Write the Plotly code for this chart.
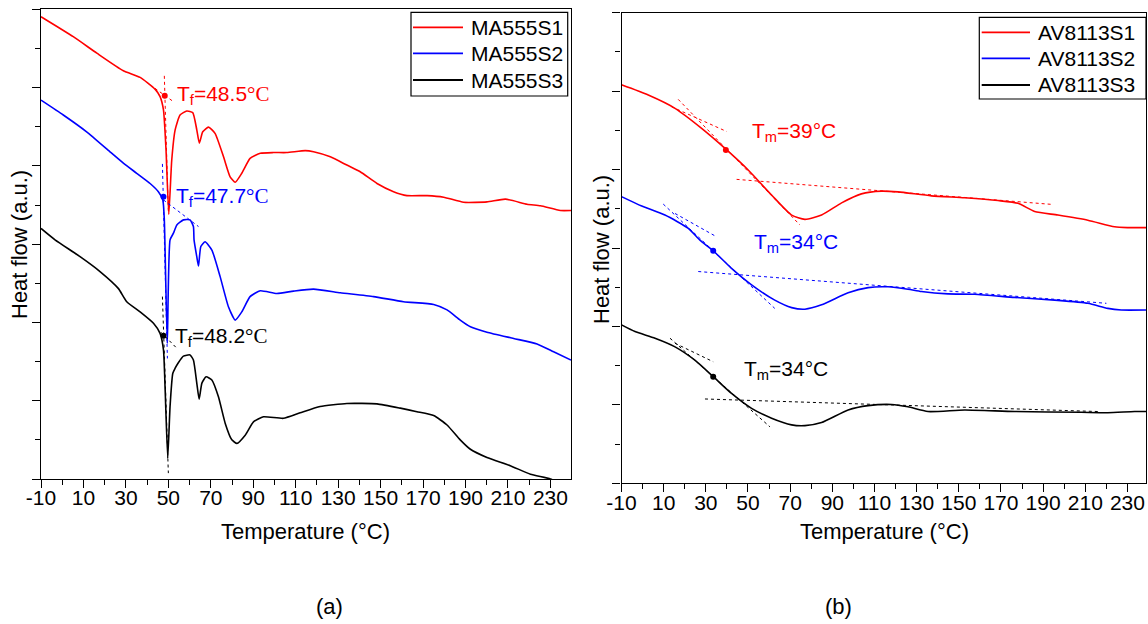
import plotly.graph_objects as go

# ---------------- data: panel (a) ----------------
ma_s1_T = [-10, 5.2, 16.3, 28.8, 36.7, 43.7, 46.1, 47.7, 48.9, 50.2, 51.6, 53.2, 55.5, 58.7, 61.5, 63.4,
           64.6, 66.2, 68.9, 72.0, 76.0, 79.1, 81.5, 84.6, 88.5, 93.3, 99.5, 105.8, 114.5, 118.4, 126.3,
           134.1, 140.4, 148.3, 156.1, 162.4, 171.9, 179.7, 189.1, 200.1, 208.8, 219.0, 225.3, 234.7, 239.7]
ma_s1_v = [11.81, 11.30, 10.88, 10.43, 10.26, 9.96, 9.77, 9.43, 8.41, 6.76, 8.15, 8.92, 9.30, 9.40, 9.36,
           8.92, 8.58, 8.87, 8.99, 8.83, 8.23, 7.72, 7.58, 7.81, 8.19, 8.32, 8.34, 8.34, 8.39, 8.36, 8.23,
           8.02, 7.85, 7.55, 7.34, 7.24, 7.24, 7.20, 7.07, 7.08, 7.15, 7.02, 6.98, 6.86, 6.86]

ma_s2_T = [-10, 0.5, 11.5, 22.5, 28.8, 35.1, 41.4, 45.3, 47.4, 48.1, 49.5, 50.8, 52.4, 54.0, 57.1, 60.2,
           61.8, 62.1, 63.4, 64.2, 65.3, 67.3, 70.5, 74.4, 78.3, 81.5, 84.6, 88.5, 93.3, 101.1, 109.0,
           118.4, 131.0, 146.7, 160.8, 175.0, 181.3, 187.5, 192.3, 200.1, 212.7, 223.7, 231.5, 239.7]
ma_s2_v = [9.68, 9.30, 8.87, 8.36, 8.07, 7.81, 7.55, 7.34, 7.13, 6.62, 3.47, 6.11, 6.28, 6.49, 6.62, 6.62,
           6.45, 6.11, 5.68, 5.44, 5.94, 6.06, 5.85, 5.17, 4.40, 4.06, 4.27, 4.66, 4.81, 4.74, 4.80,
           4.85, 4.76, 4.66, 4.53, 4.46, 4.32, 4.06, 3.89, 3.75, 3.59, 3.45, 3.25, 3.04]

ma_s3_T = [-10, -3.4, 8.4, 17.8, 26.4, 30.4, 36.7, 43.0, 46.1, 47.7, 48.5, 49.7, 50.8, 52.1, 53.2, 54.7,
           57.1, 60.2, 61.8, 63.4, 64.5, 65.8, 67.8, 70.5, 73.6, 76.8, 79.9, 82.3, 86.2, 90.1, 94.8,
           104.2, 112.1, 121.5, 134.1, 148.3, 159.3, 167.1, 175.0, 181.3, 187.5, 192.3, 200.1, 211.1,
           220.6, 230.0, 235.5, 239.7]
ma_s3_v = [6.40, 6.11, 5.68, 5.30, 4.87, 4.53, 4.27, 3.98, 3.72, 3.30, 2.27, 0.53, 1.85, 2.70, 2.83, 2.97,
           3.14, 3.17, 3.04, 2.45, 2.04, 2.45, 2.61, 2.53, 2.10, 1.42, 1.00, 0.91, 1.12, 1.46, 1.59,
           1.55, 1.69, 1.85, 1.93, 1.92, 1.81, 1.72, 1.62, 1.38, 1.00, 0.76, 0.55, 0.34,
           0.12, 0.00, -0.15, -0.30]

# onset construction lines (a): ([T0, T1], [v0, v1])
ma_s1_onset = ([48.1, 50.0], [10.30, 6.80])
ma_s1_base = ([43.7, 52.4], [9.98, 9.64])
ma_s1_point = (48.3, 9.79)
ma_s2_onset = ([47.2, 49.55], [8.05, 3.08])
ma_s2_base = ([47.7, 64.2], [7.13, 6.45])
ma_s2_point = (47.7, 7.21)
ma_s3_onset = ([47.2, 50.0], [4.66, 0.15])
ma_s3_base = ([46.5, 54.0], [3.75, 3.34])
ma_s3_point = (47.7, 3.66)

# ---------------- data: panel (b) ----------------
av_s1_T = [-10, 2.7, 15.4, 28.0, 39.1, 50.1, 61.2, 70.7, 77.0, 84.9, 94.4, 103.8, 113.3, 121.2, 137.0,
           152.8, 168.6, 178.1, 186.0, 197.0, 211.2, 223.9, 230.0, 238.8]
av_s1_v = [10.16, 9.90, 9.56, 9.05, 8.54, 7.99, 7.35, 6.84, 6.73, 6.84, 7.15, 7.38, 7.45, 7.43, 7.33,
           7.28, 7.21, 7.14, 6.93, 6.84, 6.71, 6.54, 6.52, 6.52]

av_s2_T = [-10, -0.4, 10.6, 21.7, 27.2, 33.5, 42.2, 51.7, 62.7, 70.7, 77.0, 84.9, 97.5, 107.0, 116.4,
           125.9, 132.3, 144.9, 157.5, 176.5, 195.5, 211.2, 220.7, 227.1, 238.8]
av_s2_v = [7.31, 7.07, 6.84, 6.50, 6.20, 5.93, 5.48, 5.06, 4.67, 4.48, 4.44, 4.55, 4.86, 4.99, 5.01,
           4.95, 4.89, 4.83, 4.82, 4.74, 4.67, 4.59, 4.46, 4.42, 4.42]

av_s3_T = [-10, -3.6, 5.9, 15.4, 24.8, 33.5, 42.2, 51.7, 61.2, 70.7, 77.0, 84.9, 97.5, 107.0, 118.1,
           125.9, 135.4, 152.8, 176.5, 208.1, 220.7, 233.4, 238.8]
av_s3_v = [4.04, 3.87, 3.70, 3.48, 3.14, 2.72, 2.29, 1.91, 1.66, 1.49, 1.47, 1.55, 1.87, 1.98, 2.01,
           1.95, 1.83, 1.87, 1.83, 1.81, 1.80, 1.83, 1.83]

av_s1_inflect = ([16.9, 74.6], [9.79, 6.59])
av_s1_base1 = ([13.8, 39.9], [9.60, 8.97])
av_s1_base2 = ([44.6, 194.6], [7.75, 7.11])
av_s1_point = (39.5, 8.50)
av_s2_inflect = ([9.8, 62.7], [7.12, 4.46])
av_s2_base1 = ([15.4, 34.3], [6.88, 6.31])
av_s2_base2 = ([26.4, 220.0], [5.40, 4.59])
av_s2_point = (33.5, 5.93)
av_s3_inflect = ([13.0, 60.4], [3.70, 1.44])
av_s3_base1 = ([15.4, 33.5], [3.57, 3.10])
av_s3_base2 = ([29.6, 216.0], [2.15, 1.83])
av_s3_point = (33.5, 2.72)

x_tick_vals = [-10, 10, 30, 50, 70, 90, 110, 130, 150, 170, 190, 210, 230]
x_tick_text = ["-10", "10", "30", "50", "70", "90", "110", "130", "150", "170", "190", "210", "230"]
x_minor_vals = [0, 20, 40, 60, 80, 100, 120, 140, 160, 180, 200, 220]

names_a = ["MA555S1", "MA555S2", "MA555S3"]
names_b = ["AV8113S1", "AV8113S2", "AV8113S3"]
labels_a = ["48.5", "47.7", "48.2"]
labels_b = ["39", "34", "34"]
colors = ["#FF0000", "#0000FF", "#000000"]

SANS = "Liberation Sans, Arial, sans-serif"
SERIF = "Liberation Serif, Times New Roman, serif"

W, H = 1148, 624


def fx(sx):
    return sx / W


def fy(sy):
    return 1 - sy / H


fig = go.Figure()

series_a = [(ma_s1_T, ma_s1_v), (ma_s2_T, ma_s2_v), (ma_s3_T, ma_s3_v)]
series_b = [(av_s1_T, av_s1_v), (av_s2_T, av_s2_v), (av_s3_T, av_s3_v)]

for (T, v), nm, c in zip(series_a, names_a, colors):
    fig.add_trace(go.Scatter(x=T, y=v, mode="lines", name=nm,
                             line=dict(color=c, width=1.6, shape="spline", smoothing=0.5),
                             xaxis="x", yaxis="y", showlegend=False))
for (T, v), nm, c in zip(series_b, names_b, colors):
    fig.add_trace(go.Scatter(x=T, y=v, mode="lines", name=nm,
                             line=dict(color=c, width=1.6, shape="spline", smoothing=0.6),
                             xaxis="x2", yaxis="y2", showlegend=False))

cons_a = [(ma_s1_onset, ma_s1_base, ma_s1_point), (ma_s2_onset, ma_s2_base, ma_s2_point),
          (ma_s3_onset, ma_s3_base, ma_s3_point)]
for segs, c in zip(cons_a, colors):
    for seg in segs[:2]:
        fig.add_trace(go.Scatter(x=seg[0], y=seg[1], mode="lines", showlegend=False,
                                 line=dict(color=c, width=1, dash="dot"), xaxis="x", yaxis="y"))
    fig.add_trace(go.Scatter(x=[segs[2][0]], y=[segs[2][1]], mode="markers", showlegend=False,
                             marker=dict(color=c, size=6), xaxis="x", yaxis="y"))

cons_b = [(av_s1_inflect, av_s1_base1, av_s1_base2, av_s1_point),
          (av_s2_inflect, av_s2_base1, av_s2_base2, av_s2_point),
          (av_s3_inflect, av_s3_base1, av_s3_base2, av_s3_point)]
for segs, c in zip(cons_b, colors):
    for seg in segs[:3]:
        fig.add_trace(go.Scatter(x=seg[0], y=seg[1], mode="lines", showlegend=False,
                                 line=dict(color=c, width=1, dash="dot"), xaxis="x2", yaxis="y2"))
    fig.add_trace(go.Scatter(x=[segs[3][0]], y=[segs[3][1]], mode="markers", showlegend=False,
                             marker=dict(color=c, size=6), xaxis="x2", yaxis="y2"))


def xaxis_cfg(dom, rng, anchor):
    return dict(domain=dom, range=rng, anchor=anchor, tickmode="array", tickvals=x_tick_vals,
                ticktext=x_tick_text, ticks="outside", ticklen=8, tickwidth=1.2, tickcolor="black",
                ticklabelstandoff=-8,
                minor=dict(tickmode="array", tickvals=x_minor_vals, ticks="outside", ticklen=5,
                           tickwidth=1.2, tickcolor="black", showgrid=False),
                showline=True, linecolor="black", linewidth=1.3, mirror=True, showgrid=False,
                zeroline=False, automargin=False, tickfont=dict(family=SANS, size=21, color="black"))


def yaxis_cfg(dom, anchor):
    return dict(domain=dom, range=[0, 12], anchor=anchor, tickmode="linear", tick0=0, dtick=2,
                showticklabels=False, ticks="outside", ticklen=8, tickwidth=1.2, tickcolor="black",
                minor=dict(tickmode="linear", tick0=0, dtick=1, ticks="outside", ticklen=5,
                           tickwidth=1.2, tickcolor="black", showgrid=False),
                showline=True, linecolor="black", linewidth=1.3, mirror=True, showgrid=False,
                zeroline=False, automargin=False)


ann = []
shapes = []
# axis titles and panel labels
for sx in [306, 884]:
    ann.append(dict(text="Temperature (°C)", xref="paper", yref="paper", x=fx(sx), y=fy(531),
                    showarrow=False, font=dict(family=SANS, size=22, color="black"),
                    xanchor="center", yanchor="middle"))
for sx, sy in [(20, 245), (601, 250)]:
    ann.append(dict(text="Heat flow (a.u.)", xref="paper", yref="paper", x=fx(sx), y=fy(sy),
                    showarrow=False, textangle=-90, font=dict(family=SANS, size=22, color="black"),
                    xanchor="center", yanchor="middle"))
for t, sx in [("(a)", 329), ("(b)", 838)]:
    ann.append(dict(text=t, xref="paper", yref="paper", x=fx(sx), y=fy(606), showarrow=False,
                    font=dict(family=SANS, size=22, color="black"), xanchor="center", yanchor="middle"))

pos_a = [(53.2, 9.81), (52.7, 7.21), (52.2, 3.64)]
for (px, py), lab, c in zip(pos_a, labels_a, colors):
    ann.append(dict(text=f"T<sub>f</sub>={lab}<span style='font-family:{SERIF}'>°C</span>",
                    xref="x", yref="y", x=px, y=py, showarrow=False, xanchor="left", yanchor="middle",
                    font=dict(family=SANS, size=21, color=c)))
pos_b = [(50.9, 8.96), (51.7, 6.13), (47.0, 2.89)]
for (px, py), lab, c in zip(pos_b, labels_b, colors):
    ann.append(dict(text=f"T<sub>m</sub>={lab}°C",
                    xref="x2", yref="y2", x=px, y=py, showarrow=False, xanchor="left", yanchor="middle",
                    font=dict(family=SANS, size=21, color=c)))

# legends (box, line samples, names)
legend_boxes = [(411, 567.7, 12.3, 96.0, 413, 463, 469, [27.3, 53.3, 80.0], names_a),
                (979.3, 1146, 17.3, 99.0, 981.7, 1030, 1035.7, [32.3, 58.3, 85.0], names_b)]
for x0, x1, y0, y1, lx0, lx1, tx, rows, names in legend_boxes:
    shapes.append(dict(type="rect", xref="paper", yref="paper", x0=fx(x0), x1=fx(x1), y0=fy(y1),
                       y1=fy(y0), line=dict(color="black", width=1.2), fillcolor="white", layer="above"))
    for ry, nm, c in zip(rows, names, colors):
        shapes.append(dict(type="line", xref="paper", yref="paper", x0=fx(lx0), x1=fx(lx1), y0=fy(ry),
                           y1=fy(ry), line=dict(color=c, width=1.8), layer="above"))
        ann.append(dict(text=nm, xref="paper", yref="paper", x=fx(tx), y=fy(ry), showarrow=False,
                        xanchor="left", yanchor="middle", font=dict(family=SANS, size=21, color="black")))

fig.update_layout(
    width=W, height=H, margin=dict(l=0, r=0, t=0, b=0, pad=0),
    plot_bgcolor="white", paper_bgcolor="white",
    xaxis=xaxis_cfg([fx(41), fx(571)], [-10, 239.7], "y"),
    yaxis=yaxis_cfg([fy(479), fy(9.3)], "x"),
    xaxis2=xaxis_cfg([fx(621.5), fx(1146)], [-10, 238.8], "y2"),
    yaxis2=yaxis_cfg([fy(483.3), fy(12.7)], "x2"),
    annotations=ann,
    shapes=shapes,
    showlegend=False,
)

fig.write_html("out.html", config={"displayModeBar": False},
               post_script="document.body.style.margin='0px';document.body.style.overflow='hidden';")
